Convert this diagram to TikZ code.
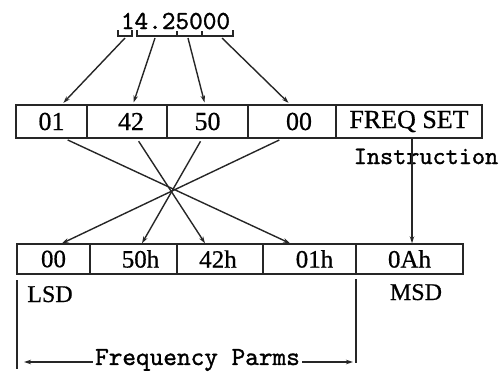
\documentclass[tikz,border=0pt]{standalone}
\usepackage{fontspec}
\setmainfont{Liberation Serif}[FakeBold=0.6]
\newfontfamily\mytt{lmmono10-regular.otf}[FakeBold=1.2]
\usetikzlibrary{arrows.meta,calc}
\begin{document}
\begin{tikzpicture}[x=1pt,y=-1pt,
  ln/.style={line width=1.4pt,draw=black!85},
  arr/.style={ln,-{Stealth[length=7pt,width=4.5pt]}},
  topbox/.style={ln,rectangle,minimum height=33pt,inner sep=0pt,font=\fontsize{26}{29}\selectfont},
  botbox/.style={ln,rectangle,minimum height=30pt,inner sep=0pt,font=\fontsize{25}{28}\selectfont},
  lbl/.style={inner sep=0pt,font=\fontsize{24}{27}\selectfont},
  tt/.style={inner sep=0pt,font=\mytt\fontsize{26}{30}\selectfont}]
\useasboundingbox (0,0) rectangle (501,373);
% number
\node[tt,anchor=base] (num) at (175.5,29) {14.25000};
\draw[ln] (118,30)--(118,36)--(132,36)--(132,30);
\draw[ln] (137,30)--(137,36)--(233,36)--(233,30);
\draw[ln] (177,36)--(177,31) (202,36)--(202,31);
\coordinate (g1) at (125,38);
\coordinate (g2) at (155,38);
\coordinate (g3) at (188,38);
\coordinate (g4) at (222,38);
% top row
\node[topbox,minimum width=71pt] (t1) at (51.5,121.5) {01};
\node[topbox,minimum width=80pt] (t2) at (127,121.5) {\hspace{8pt}42};
\node[topbox,minimum width=81pt] (t3) at (207.5,121.5) {50};
\node[topbox,minimum width=88pt] (t4) at (292,121.5) {\hspace{14pt}00};
\node[topbox,minimum width=146pt] (t5) at (409,121.5) {FREQ SET};
\node[tt,anchor=base,font=\mytt\fontsize{25}{29}\selectfont] (ins) at (426,164) {Instruction};
% bottom row
\node[botbox,minimum width=73pt] (b1) at (53.5,259) {00};
\node[botbox,minimum width=87pt] (b2) at (133.5,259) {\hspace{14pt}50h};
\node[botbox,minimum width=86pt] (b3) at (220,259) {\hspace{-4pt}42h};
\node[botbox,minimum width=93pt] (b4) at (309.5,259) {\hspace{10pt}01h};
\node[botbox,minimum width=107pt] (b5) at (409.5,259) {0Ah};
\node[lbl,anchor=base] (lsd) at (50,302) {LSD};
\node[lbl,anchor=base] (msd) at (416,300) {MSD};
% arrows from number
\draw[arr,shorten >=2pt] (g1) -- ($(t1.north)+(10.5,0)$);
\draw[arr,shorten >=2pt] (g2) -- ($(t2.north)+(6,0)$);
\draw[arr,shorten >=2pt] (g3) -- ($(t3.north)+(-2.5,0)$);
\draw[arr,shorten >=2pt] (g4) -- ($(t4.north)+(-2,0)$);
% crossing
\draw[arr,shorten <=3pt] ($(t1.south)+(13.5,0)$) -- ($(b4.north)+(-19.5,0)$);
\draw[arr,shorten <=3pt] ($(t2.south)+(10,0)$) -- ($(b3.north)+(-15,0)$);
\draw[arr,shorten <=3pt] ($(t3.south)+(-5.5,0)$) -- ($(b2.north)+(8.5,0)$);
\draw[arr,shorten <=3pt] ($(t4.south)+(-10,0)$) -- ($(b1.north)+(8.5,0)$);
\draw[arr] ($(t5.south)+(3,0)$) -- ($(b5.north)+(2.5,0)$);
% frequency parms
\coordinate (lt) at (17,280);
\coordinate (lb) at (17,369);
\coordinate (rt) at (356,279);
\coordinate (rb) at (356,363);
\draw[ln] (lt) -- (lb);
\draw[ln] (rt) -- (rb);
\node[tt,inner xsep=2pt] (fp) at (197.5,360) {Frequency Parms};
\coordinate (la) at (24,362);
\coordinate (ra) at (353,362);
\draw[arr] (fp.west |- la) -- (la);
\draw[arr] (fp.east |- ra) -- (ra);
\end{tikzpicture}
\end{document}
